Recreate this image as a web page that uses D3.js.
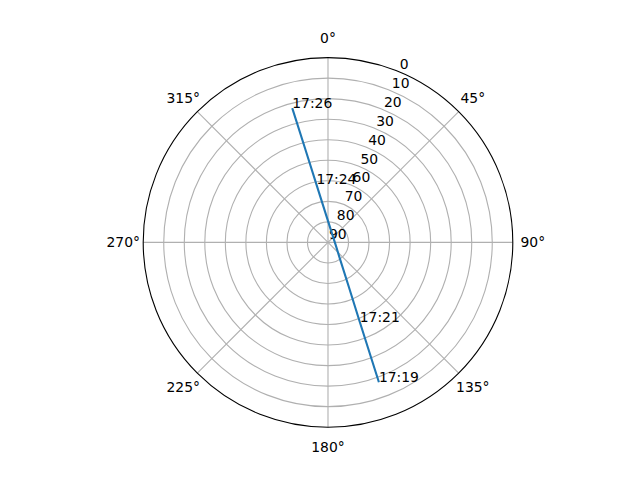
<!DOCTYPE html>
<html>
<head>
<meta charset="utf-8">
<script src="https://cdn.jsdelivr.net/npm/d3@7"></script>
<style>
  body { margin: 0; background: #fff; }
  text { font-family: "DejaVu Sans", sans-serif; font-size: 13.9px; fill: #000; }
</style>
</head>
<body>
<svg id="chart" width="640" height="480"></svg>
<script>
// satellite pass: azimuth (deg, clockwise from N) and elevation (deg)
const passAz = [160.0, 158.2, 154.8, 144.0, 109.8, 16.7, 354.7, 348.7, 346.3, 345.1];
const passEl = [17.5, 48.4, 66.4, 80.1, 86.0, 84.4, 75.2, 61.2, 43.2, 22.3];
const passLabels = ["17:19", "17:21", "", "", "", "", "", "17:24", "", "17:26"];

const elTicks = [0, 10, 20, 30, 40, 50, 60, 70, 80, 90];
const azTicks = [0, 45, 90, 135, 180, 225, 270, 315];

const svg = d3.select("#chart");
const cx = 328, cy = 242.4, R = 184.8;
const rad = d => d * Math.PI / 180;

const r = d3.scaleLinear().domain([90, 0]).range([0, R]);
const g = svg.append("g").attr("transform", `translate(${cx},${cy})`);

// grid
g.append("g").selectAll("circle")
  .data(elTicks.filter(d => d > 0 && d < 90)).join("circle")
  .attr("r", d => r(d))
  .attr("fill", "none").attr("stroke", "#b0b0b0").attr("stroke-width", 1.1);

g.append("g").selectAll("line")
  .data(azTicks).join("line")
  .attr("x1", 0).attr("y1", 0)
  .attr("x2", d => R * Math.sin(rad(d)))
  .attr("y2", d => -R * Math.cos(rad(d)))
  .attr("stroke", "#b0b0b0").attr("stroke-width", 1.1);

// outer spine
g.append("circle").attr("r", R)
  .attr("fill", "none").attr("stroke", "#000").attr("stroke-width", 1.1);

// angle labels
g.append("g").selectAll("text")
  .data(azTicks).join("text")
  .attr("x", d => (R + 20) * Math.sin(rad(d)))
  .attr("y", d => -(R + 20) * Math.cos(rad(d)))
  .attr("text-anchor", "middle")
  .attr("dominant-baseline", "central")
  .text(d => d + "°");

// radial labels at 22.5°
const la = rad(22.5);
g.append("g").selectAll("text")
  .data(elTicks).join("text")
  .attr("x", d => r(d) * Math.sin(la) + 1)
  .attr("y", d => -r(d) * Math.cos(la) - 3)
  .text(d => d);

// pass track
const pts = passAz.map((a, i) => ({ a: rad(a), el: passEl[i], label: passLabels[i] }));
const line = d3.lineRadial().angle(d => d.a).radius(d => r(d.el));
g.append("path").datum(pts)
  .attr("d", line)
  .attr("fill", "none").attr("stroke", "#1f77b4").attr("stroke-width", 2.1);

g.append("g").selectAll("text")
  .data(pts.filter(d => d.label)).join("text")
  .attr("x", d => r(d.el) * Math.sin(d.a))
  .attr("y", d => -r(d.el) * Math.cos(d.a))
  .text(d => d.label);
</script>
</body>
</html>
